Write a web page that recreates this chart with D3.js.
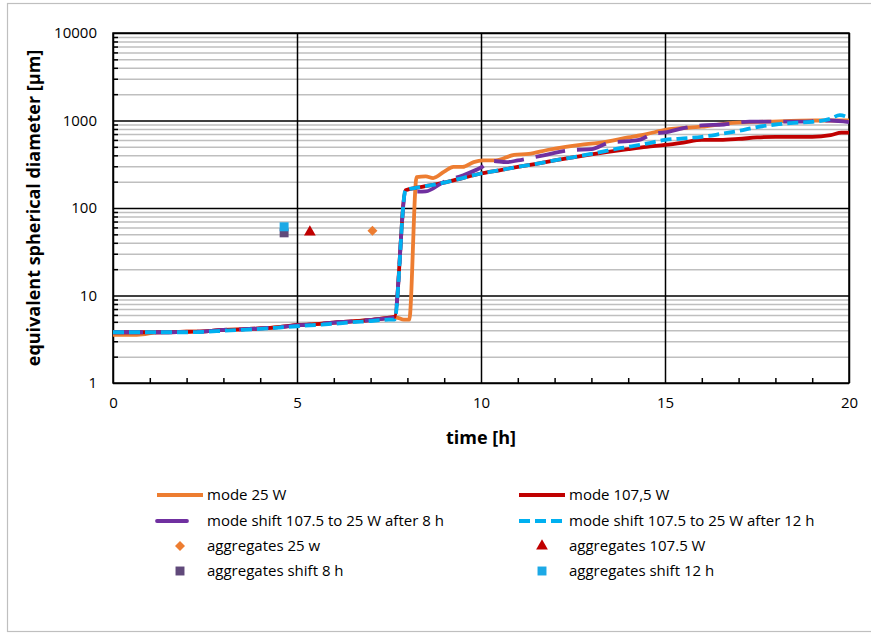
<!DOCTYPE html>
<html>
<head>
<meta charset="utf-8">
<script src="https://cdn.jsdelivr.net/npm/d3@7"></script>
<style>
  body { margin: 0; background: #fff; }
  svg { font-family: "Open Sans", sans-serif; }
</style>
</head>
<body>
<svg id="chart" width="871" height="643"></svg>
<script>
// time in hours, diameter in µm
const tOrange = [0, 0.5, 0.8, 1.2, 2, 2.5, 3, 3.5, 4, 4.5, 5, 5.5, 6, 6.5, 7, 7.5, 7.7, 7.9, 8.05, 8.25, 8.5, 8.7, 9.0, 9.25, 9.5, 9.8, 10.05, 10.4, 10.9, 11.3, 11.8, 12.3, 12.7, 13.2, 14, 14.5, 15, 16, 16.85, 17.8, 19.1, 20];
const vOrange = [3.55, 3.55, 3.6, 3.8, 3.85, 3.9, 4.05, 4.1, 4.2, 4.35, 4.55, 4.7, 4.9, 5.05, 5.25, 5.55, 5.6, 5.3, 5.3, 225, 230, 220, 260, 295, 295, 335, 350, 350, 405, 415, 460, 500, 527, 555, 640, 700, 780, 850, 940, 970, 1000, 1000];

const tRed = [0, 0.5, 1, 1.5, 2, 2.5, 3, 3.5, 4, 4.5, 5, 5.5, 6, 6.5, 7, 7.5, 7.65, 7.95, 8.3, 9, 9.5, 10, 10.5, 11, 11.5, 12, 12.5, 13, 13.5, 14, 14.5, 15, 15.5, 16, 16.5, 17, 17.5, 18, 18.5, 19, 19.5, 19.8, 20];
const vRed = [3.8, 3.8, 3.8, 3.8, 3.85, 3.9, 4.05, 4.1, 4.2, 4.35, 4.6, 4.7, 4.9, 5.05, 5.25, 5.6, 5.7, 160, 172, 195, 220, 248, 270, 295, 320, 350, 380, 410, 440, 470, 500, 526, 560, 600, 600, 615, 640, 650, 650, 650, 680, 725, 725];

const tPurple = [0, 0.5, 1, 1.5, 2, 2.5, 3, 3.5, 4, 4.5, 5, 5.5, 6, 6.5, 7, 7.5, 7.65, 7.95, 8.5, 9, 9.5, 10, 10.3, 10.7, 11, 11.3, 11.7, 12.1, 12.5, 13, 13.5, 14, 14.3, 14.7, 15, 15.5, 16, 16.6, 17.3, 18, 18.5, 19, 19.5, 20];
const vPurple = [3.8, 3.8, 3.8, 3.8, 3.85, 3.9, 4.05, 4.1, 4.2, 4.35, 4.55, 4.7, 4.9, 5.05, 5.25, 5.5, 5.6, 152, 155, 200, 235, 290, 345, 335, 350, 370, 400, 435, 460, 470, 560, 580, 600, 710, 730, 820, 880, 900, 970, 970, 970, 980, 1000, 960];

const tBlue = [0, 0.5, 1, 1.5, 2, 2.5, 3, 3.5, 4, 4.5, 5, 5.5, 6, 6.5, 7, 7.5, 7.65, 7.95, 8.3, 9, 9.5, 10, 10.5, 11, 11.5, 12, 12.5, 13, 13.5, 14, 14.5, 15, 15.5, 16, 16.5, 17, 17.5, 18, 18.5, 19, 19.5, 19.75, 20];
const vBlue = [3.8, 3.8, 3.8, 3.8, 3.8, 3.85, 3.95, 4.05, 4.15, 4.3, 4.45, 4.6, 4.75, 4.95, 5.1, 5.3, 5.3, 160, 172, 195, 220, 248, 270, 295, 320, 350, 380, 415, 460, 500, 545, 600, 625, 650, 700, 760, 840, 900, 940, 965, 1050, 1150, 1070];

// aggregates (single points)
const aggNames = ["aggregates 25 w", "aggregates 107.5 W", "aggregates shift 8 h", "aggregates shift 12 h"];
const aggTime = [7.05, 5.35, 4.65, 4.65];
const aggSize = [55, 53, 52, 61];

const seriesNames = ["mode 25 W", "mode 107,5 W", "mode shift 107.5 to 25 W after 8 h", "mode shift 107.5 to 25 W after 12 h"];

const xTicks = [0, 5, 10, 15, 20];
const yTicks = [1, 10, 100, 1000, 10000];

const svg = d3.select("#chart");

// outer chart border
svg.append("rect")
  .attr("x", 7.5).attr("y", 3.5)
  .attr("width", 880).attr("height", 628)
  .attr("fill", "none").attr("stroke", "#bfbfbf").attr("stroke-width", 1.2);

const pLeft = 113, pRight = 849, pTop = 33, pBottom = 383;
const w = pRight - pLeft, h = pBottom - pTop;

const x = d3.scaleLinear().domain([0, 20]).range([pLeft, pRight]);
const y = d3.scaleLog().domain([1, 10000]).range([pBottom, pTop]);

// minor y values: 2..9 in every decade
let yMinor = [];
[1, 10, 100, 1000].forEach(d => { for (let k = 2; k <= 9; k++) yMinor.push(d * k); });
const xMinor = d3.range(1, 20).filter(v => v % 5 !== 0);

// minor horizontal grid
svg.append("g")
  .attr("transform", "translate(" + pLeft + ",0)")
  .call(d3.axisLeft(y).tickValues(yMinor).tickSize(-w).tickFormat(""))
  .call(g => g.select(".domain").remove())
  .call(g => g.selectAll("line").attr("stroke", "#bfbfbf").attr("stroke-width", 1.5));

// minor tick marks inside the frame
svg.append("g")
  .attr("transform", "translate(" + pLeft + ",0)")
  .call(d3.axisLeft(y).tickValues(yMinor).tickSize(-5).tickFormat(""))
  .call(g => g.select(".domain").remove())
  .call(g => g.selectAll("line").attr("stroke", "#000").attr("stroke-width", 1.5));

svg.append("g")
  .attr("transform", "translate(0," + pBottom + ")")
  .call(d3.axisBottom(x).tickValues(xMinor).tickSize(-5).tickFormat(""))
  .call(g => g.select(".domain").remove())
  .call(g => g.selectAll("line").attr("stroke", "#000").attr("stroke-width", 1.5));

// major grid + labels
svg.append("g")
  .attr("transform", "translate(" + pLeft + ",0)")
  .call(d3.axisLeft(y).tickValues(yTicks).tickSize(-w).tickPadding(16).tickFormat(d3.format("d")))
  .call(g => g.select(".domain").remove())
  .call(g => g.selectAll("line").attr("stroke", "#000").attr("stroke-width", 1.5))
  .call(g => g.selectAll("text").attr("font-size", 15).attr("fill", "#000")
    .attr("font-family", "Open Sans, sans-serif"));

svg.append("g")
  .attr("transform", "translate(0," + pBottom + ")")
  .call(d3.axisBottom(x).tickValues(xTicks).tickSize(-h).tickPadding(14))
  .call(g => g.select(".domain").remove())
  .call(g => g.selectAll("line").attr("stroke", "#000").attr("stroke-width", 1.5))
  .call(g => g.selectAll("text").attr("font-size", 15).attr("fill", "#000")
    .attr("font-family", "Open Sans, sans-serif"));

// plot frame
svg.append("rect")
  .attr("x", pLeft).attr("y", pTop).attr("width", w).attr("height", h)
  .attr("fill", "none").attr("stroke", "#000").attr("stroke-width", 1.5);

// axis titles
svg.append("text")
  .attr("x", (pLeft + pRight) / 2).attr("y", 444)
  .attr("text-anchor", "middle").attr("font-weight", "bold").attr("font-size", 18)
  .text("time [h]");

svg.append("text")
  .attr("transform", "translate(40," + (pTop + pBottom) / 2 + ") rotate(-90)")
  .attr("text-anchor", "middle").attr("font-weight", "bold").attr("font-size", 18)
  .text("equivalent spherical diameter [µm]");

// lines
const styles = [
  { color: "#ed7d31", dash: null },
  { color: "#c00000", dash: null },
  { color: "#7030a0", dash: "30,12" },
  { color: "#00b0f0", dash: "11,5" }
];
const seriesT = [tOrange, tRed, tPurple, tBlue];
const seriesV = [vOrange, vRed, vPurple, vBlue];

const line = d3.line()
  .x(d => x(d[0]))
  .y(d => y(d[1]))
  .curve(d3.curveMonotoneX);

seriesT.forEach((ts, i) => {
  const pts = ts.map((t, j) => [t, seriesV[i][j]]);
  svg.append("path")
    .datum(pts)
    .attr("d", line)
    .attr("fill", "none")
    .attr("stroke", styles[i].color)
    .attr("stroke-width", 3.8)
    .attr("stroke-linejoin", "round")
    .attr("stroke-dasharray", styles[i].dash);
});

// aggregate markers (diamond = square turned 45°)
const markColors = ["#ed7d31", "#c00000", "#60497a", "#1ca9e6"];
const markSymbols = [d3.symbolSquare, d3.symbolTriangle, d3.symbolSquare, d3.symbolSquare];
const markAreas = [50, 60, 80, 80];
const markRotate = [45, 0, 0, 0];

aggTime.forEach((t, i) => {
  svg.append("path")
    .attr("d", d3.symbol().type(markSymbols[i]).size(markAreas[i]))
    .attr("transform", "translate(" + x(t) + "," + y(aggSize[i]) + ") rotate(" + markRotate[i] + ")")
    .attr("fill", markColors[i]);
});

// legend
const legendX = [157, 519];
const legendY = [495, 521, 546, 571];
const legendItems = [
  { name: seriesNames[0], kind: "line", s: 0 },
  { name: seriesNames[1], kind: "line", s: 1 },
  { name: seriesNames[2], kind: "line", s: 2 },
  { name: seriesNames[3], kind: "line", s: 3 },
  { name: aggNames[0], kind: "mark", s: 0 },
  { name: aggNames[1], kind: "mark", s: 1 },
  { name: aggNames[2], kind: "mark", s: 2 },
  { name: aggNames[3], kind: "mark", s: 3 }
];

legendItems.forEach((it, i) => {
  const lx = legendX[i % 2];
  const ly = legendY[Math.floor(i / 2)];
  const g = svg.append("g");
  if (it.kind === "line") {
    g.append("line")
      .attr("x1", lx).attr("x2", lx + 46).attr("y1", ly).attr("y2", ly)
      .attr("stroke", styles[it.s].color).attr("stroke-width", 3.8)
      .attr("stroke-linecap", it.s === 2 ? "round" : "butt")
      .attr("stroke-dasharray", it.s === 2 ? "30,40" : styles[it.s].dash);
  } else {
    g.append("path")
      .attr("d", d3.symbol().type(markSymbols[it.s]).size(markAreas[it.s]))
      .attr("transform", "translate(" + (lx + 23) + "," + ly + ") rotate(" + markRotate[it.s] + ")")
      .attr("fill", markColors[it.s]);
  }
  g.append("text")
    .attr("x", lx + 50).attr("y", ly)
    .attr("dy", "0.35em")
    .attr("font-size", 15)
    .attr("fill", "#000")
    .text(it.name);
});
</script>
</body>
</html>
